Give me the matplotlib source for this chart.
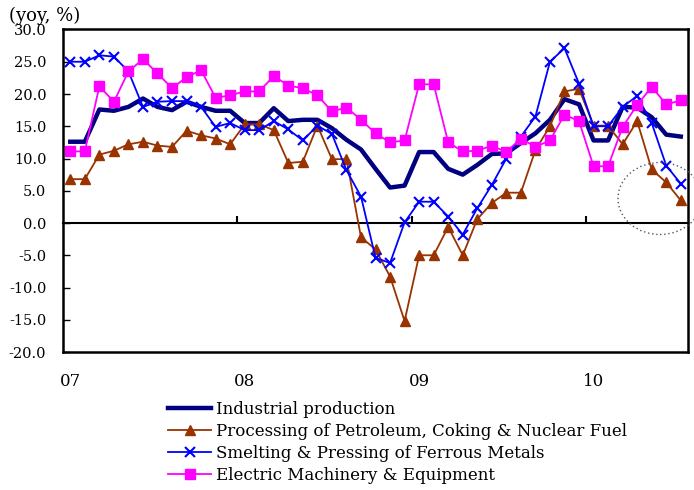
import numpy as np
import matplotlib
matplotlib.use("Agg")
import matplotlib.pyplot as plt
from matplotlib.patches import Ellipse

plt.rcParams['font.family'] = ['DejaVu Serif']

# monthly yoy growth, Jan 2007 - Jul 2010
months = [f"{y}-{m:02d}" for y in range(2007, 2011) for m in range(1, 13)][:43]
year_labels = ["07", "08", "09", "10"]
year_pos = [0, 12, 24, 36]

industrial = [12.6, 12.6, 17.6, 17.4, 18.0, 19.3, 18.0, 17.5, 18.8, 18.0, 17.4, 17.4,
              15.5, 15.5, 17.8, 15.8, 16.0, 16.0, 14.7, 12.9, 11.4, 8.4, 5.5, 5.8,
              11.0, 11.0, 8.4, 7.5, 9.0, 10.7, 10.8, 12.4, 13.9, 16.0, 19.2, 18.4,
              12.8, 12.8, 18.0, 17.9, 16.4, 13.7, 13.4]
petroleum = [6.8, 6.8, 10.6, 11.2, 12.2, 12.6, 12.0, 11.8, 14.3, 13.6, 13.1, 12.2,
             15.3, 15.3, 14.4, 9.3, 9.5, 15.1, 9.9, 9.9, -2.2, -4.1, -8.3, -15.2,
             -5.0, -5.0, -0.6, -5.0, 0.6, 3.1, 4.7, 4.7, 11.3, 15.0, 20.4, 20.8,
             15.1, 15.1, 12.2, 15.8, 8.3, 6.3, 3.5]
ferrous = [25.0, 25.0, 26.0, 25.8, 23.5, 18.0, 18.8, 18.9, 18.9, 18.0, 14.9, 15.5,
           14.4, 14.4, 15.8, 14.5, 12.8, 15.1, 13.8, 8.2, 4.1, -5.4, -6.2, 0.1,
           3.3, 3.3, 1.0, -1.8, 2.3, 5.9, 10.0, 13.4, 16.5, 25.0, 27.1, 21.6,
           15.0, 15.0, 18.0, 19.7, 15.5, 8.9, 6.1]
electric = [11.1, 11.1, 21.2, 18.8, 23.5, 25.4, 23.2, 20.9, 22.6, 23.7, 19.4, 19.8,
            20.4, 20.4, 22.8, 21.3, 20.9, 19.8, 17.3, 17.9, 16.0, 13.9, 12.5, 12.8,
            21.5, 21.5, 12.5, 11.1, 11.2, 12.0, 11.0, 13.1, 11.8, 12.8, 16.8, 15.8,
            8.8, 8.8, 14.9, 18.3, 21.1, 18.4, 19.0]

x = np.arange(len(months))

fig = plt.figure(figsize=(6.94, 4.90), dpi=100)
ax = fig.add_axes([0.0908, 0.2816, 0.9006, 0.6582])

ax.plot(x, industrial, color="#000080", lw=3.2, label="Industrial production")
ax.plot(x, petroleum, color="#993300", lw=1.3, marker="^", ms=6.5,
        label="Processing of Petroleum, Coking & Nuclear Fuel")
ax.plot(x, ferrous, color="#0000FF", lw=1.3, marker="x", ms=7, mew=1.5,
        label="Smelting & Pressing of Ferrous Metals")
ax.plot(x, electric, color="#FF00FF", lw=1.3, marker="s", ms=6.5,
        label="Electric Machinery & Equipment")

ax.set_xlim(-0.5, len(months) - 0.5)
ax.set_ylim(-20, 30)
ax.set_yticks(np.arange(-20, 31, 5))
ax.set_yticklabels([f"{v:.1f}" for v in np.arange(-20, 31, 5)], fontsize=10.5)
ax.tick_params(axis="y", direction="in", length=5, width=1, pad=12)
ax.set_xticks(year_pos)
ax.set_xticklabels(year_labels, fontsize=12)
ax.tick_params(axis="x", length=0, pad=15)
for s in ax.spines.values():
    s.set_linewidth(1.8)

# category axis crossing at zero
sec = ax.secondary_xaxis(0, transform=ax.transData)
sec.set_xticks([11.5, 23.5, 35.5])
sec.set_xticklabels([])
sec.tick_params(direction="in", length=5, width=1.5)
sec.spines["bottom"].set_linewidth(1.5)

fig.text(0.013, 0.968, "(yoy, %)", fontsize=13, va="center", ha="left")

fig.legend(loc="upper left", bbox_to_anchor=(168 / 694, 1 - 401 / 490),
           frameon=False, fontsize=12, handlelength=2.6, handletextpad=0.25,
           labelspacing=0.3, borderpad=0, borderaxespad=0)

fig.add_artist(Ellipse((660 / 694, 1 - 198.5 / 490), 84 / 694, 72 / 490,
                       transform=fig.transFigure, fill=False, ls=(0, (1, 2)),
                       lw=1, ec="#555555", clip_on=False))

fig.savefig("out.png", dpi=100)
